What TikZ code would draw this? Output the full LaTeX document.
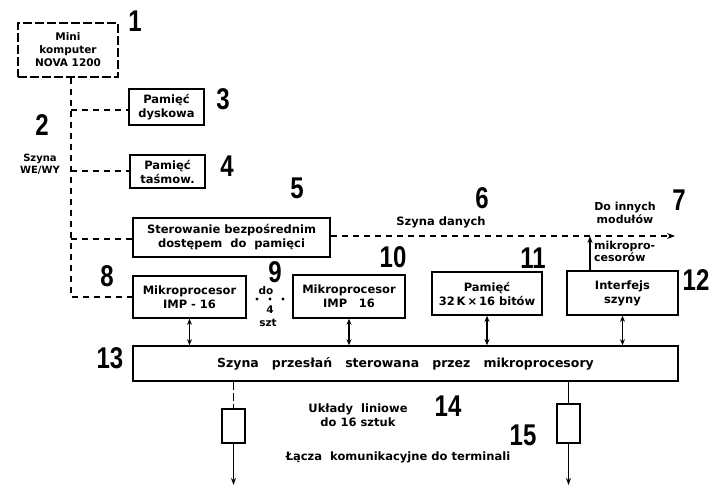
\documentclass[tikz,border=0pt]{standalone}
\usepackage{fontspec}
\setmainfont{DejaVu Sans}
\newfontfamily\numfont[FakeStretch=0.8]{Liberation Sans}
\usetikzlibrary{arrows.meta}
\tikzset{
  box/.style={draw, line width=1.6pt, inner sep=0pt, align=center, font=\bfseries\fontsize{11.5}{14}\selectfont},
  txt/.style={inner sep=0pt, align=center, font=\bfseries\fontsize{11.5}{14}\selectfont},
  num/.style={inner sep=0pt, font=\numfont\bfseries\fontsize{30}{30}\selectfont},
  dsh/.style={line width=1.1pt, dash pattern=on 6pt off 5pt},
  link/.style={line width=1.4pt},
  biarrow/.style={line width=1.4pt, {Stealth[length=6pt,width=5pt]}-{Stealth[length=6pt,width=5pt]}},
  oarrow/.style={line width=1.4pt, -{Stealth[length=7pt,width=5pt]}}
}
\begin{document}
\begin{tikzpicture}[x=1pt,y=-1pt]
\useasboundingbox (0,0) rectangle (711,486);
% boxes
\node[box, dash pattern=on 9pt off 3pt, line width=1.3pt, minimum width=100pt, minimum height=54pt, font=\bfseries\fontsize{10.5}{13}\selectfont] (mini) at (68,50) {Mini\\komputer\\NOVA 1200};
\node[box, minimum width=75pt, minimum height=36pt] (dysk) at (166.5,107) {Pamięć\\dyskowa};
\node[box, minimum width=75pt, minimum height=33pt] (tasm) at (167.5,171.5) {Pamięć\\taśmow.};
\node[box, minimum width=197pt, minimum height=39pt] (dma) at (231.5,237.5) {Sterowanie bezpośrednim\\dostępem\ \ do\ \ pamięci};
\node[box, minimum width=113pt, minimum height=42pt] (mp1) at (189.5,297) {Mikroprocesor\\IMP - 16};
\node[box, minimum width=112pt, minimum height=43pt] (mp2) at (349,296.5) {Mikroprocesor\\IMP\quad 16};
\node[box, minimum width=110pt, minimum height=43pt] (mem) at (487,293.5) {Pamięć\\32\,K\,×\,16 bitów};
\node[box, minimum width=111pt, minimum height=44pt] (intf) at (622.5,293) {Interfejs\\szyny};
\node[box, minimum width=545pt, minimum height=35pt, font=\bfseries\fontsize{12.5}{14}\selectfont] (bus) at (405.5,363.5) {Szyna\ \ \ przesłań\ \ \ sterowana\ \ \ przez\ \ \ mikroprocesory};
\node[box, minimum width=23pt, minimum height=34pt] (lb1) at (233.5,426) {};
\node[box, minimum width=23pt, minimum height=39pt] (lb2) at (568.5,423.5) {};
% left I/O bus
\coordinate (vtop) at (71,77);
\coordinate (vbot) at (71,297);
\coordinate (v1) at (71,110);
\coordinate (v2) at (71,171);
\coordinate (v3) at (71,239);
\draw[dsh] (mini.south -| vtop) -- (vbot) -- (vbot -| mp1.west);
\draw[dsh] (v1) -- (v1 -| dysk.west);
\draw[dsh] (v2) -- (v2 -| tasm.west);
\draw[dsh] (v3) -- (v3 -| dma.west);
\node[txt, font=\bfseries\fontsize{10}{12}\selectfont, fill=white, inner sep=1pt] (wewy) at (40,164) {Szyna\\WE/WY};
% data bus
\coordinate (dbend) at (675,236);
\draw[dsh, -{Stealth[length=8pt,width=6pt]}] (dma.east |- dbend) -- (dbend);
\node[txt] (dane) at (441,222) {Szyna danych};
\node[txt, font=\bfseries\fontsize{11}{12.5}\selectfont] (inne) at (625,213) {Do innych\\modułów};
\node[txt, anchor=west, align=left, font=\bfseries\fontsize{11}{12}\selectfont] (mikro) at (594,251) {mikropro-\\cesorów};
\coordinate (intup) at (590,236);
\draw[oarrow] (intf.north -| intup) -- (intup);
% do 4 szt
\node[txt, font=\bfseries\fontsize{10.5}{12}\selectfont] (do) at (266,291) {do};
\node[txt, font=\bfseries\fontsize{10.5}{12}\selectfont] (cztery) at (270,310) {4};
\node[txt, font=\bfseries\fontsize{10.5}{12}\selectfont] (szt) at (268,323) {szt};
\fill (257,299) circle (1.7pt) (270,299) circle (1.7pt) (283,299) circle (1.7pt);
% bus connections
\draw[biarrow] (mp1.south) -- (mp1.south |- bus.north);
\draw[biarrow] (mp2.south) -- (mp2.south |- bus.north);
\draw[biarrow] (mem.south) -- (mem.south |- bus.north);
\draw[biarrow] (intf.south) -- (intf.south |- bus.north);
% line circuits
\draw[line width=1pt, dash pattern=on 8pt off 3pt] (bus.south -| lb1.north) -- (lb1.north);
\draw[link] (bus.south -| lb2.north) -- (lb2.north);
\coordinate (o1) at (233.5,485);
\coordinate (o2) at (568.5,485);
\draw[oarrow] (lb1.south) -- (o1);
\draw[oarrow] (lb2.south) -- (o2);
\node[txt] (uklady) at (358,415) {Układy\ \ liniowe\\do 16 sztuk};
\node[txt] (lacza) at (398,457) {Łącza\ \ komunikacyjne\ do terminali};
% numbers
\node[num] (n1) at (135,21) {1};
\node[num] (n2) at (42,125) {2};
\node[num] (n3) at (223,99) {3};
\node[num] (n4) at (227,166) {4};
\node[num] (n5) at (297,188) {5};
\node[num] (n6) at (482,198) {6};
\node[num] (n7) at (679,200) {7};
\node[num] (n8) at (107,276) {8};
\node[num] (n9) at (275,272) {9};
\node[num] (n10) at (393,257) {10};
\node[num] (n11) at (533,258) {11};
\node[num] (n12) at (696,280) {12};
\node[num] (n13) at (110,358) {13};
\node[num] (n14) at (448,406) {14};
\node[num] (n15) at (523,435) {15};
\end{tikzpicture}
\end{document}
